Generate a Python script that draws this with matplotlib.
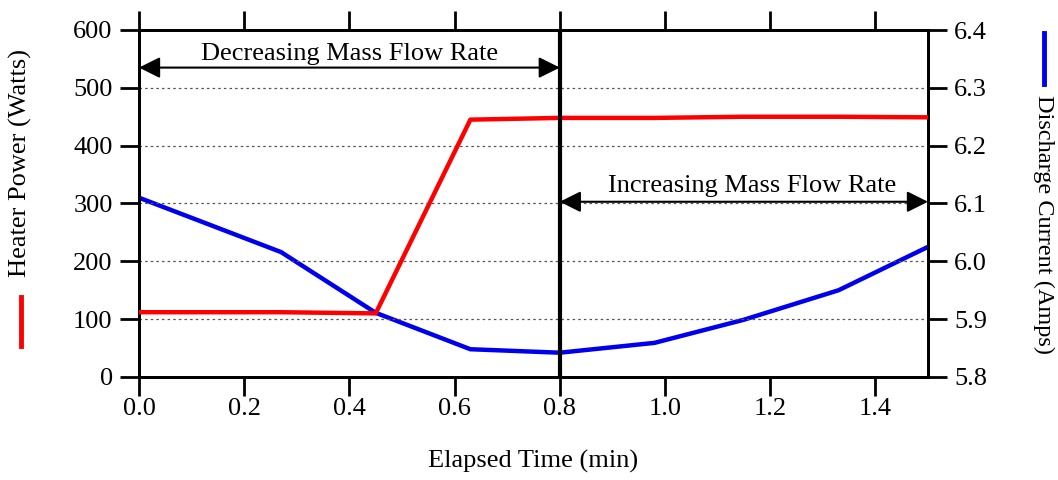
import matplotlib
matplotlib.use('Agg')
import matplotlib.pyplot as plt
from matplotlib.lines import Line2D

plt.rcParams['font.family'] = ['Liberation Serif', 'DejaVu Serif']

# elapsed time (min)
time_min = [0.0, 0.27, 0.45, 0.63, 0.80, 0.98, 1.15, 1.33, 1.50]
# heater power (W)
heater_power = [112, 112, 110, 445, 448, 448, 450, 450, 449]
# discharge current (A)
discharge_current = [6.110, 6.016, 5.911, 5.848, 5.842, 5.859, 5.899, 5.950, 6.025]

split_time = 0.8
xticks = [0.0, 0.2, 0.4, 0.6, 0.8, 1.0, 1.2, 1.4]
left_ticks = [0, 100, 200, 300, 400, 500, 600]
right_ticks = [5.8, 5.9, 6.0, 6.1, 6.2, 6.3, 6.4]

fs = 19

fig = plt.figure(figsize=(10.58, 4.8), dpi=100)
ax = fig.add_axes([0.1314, 0.2146, 0.7457, 0.7229])
ax2 = ax.twinx()

ax.set_xlim(0, 1.5)
ax.set_ylim(0, 600)
ax2.set_ylim(5.8, 6.4)

for y in left_ticks[1:-1]:
    ax.axhline(y, color='#555555', lw=0.9, ls=(0, (2, 2.5)), zorder=1)

ax2.plot(time_min, discharge_current, color='#0000ee', lw=3.2, zorder=3)
ax.plot(time_min, heater_power, color='#ff0000', lw=3.2, zorder=3)
ax.set_zorder(ax2.get_zorder() + 1)
ax.patch.set_visible(False)
ax.axvline(split_time, color='black', lw=3, zorder=4)

# annotations
arrow = dict(arrowstyle='<|-|>', color='black', lw=1.5, mutation_scale=32,
             shrinkA=0, shrinkB=0)
ax.annotate('', xy=(0, 535), xytext=(split_time, 535), arrowprops=arrow)
ax.text(split_time / 2, 558, 'Decreasing Mass Flow Rate', ha='center', va='center', fontsize=fs)
ax.annotate('', xy=(split_time, 303), xytext=(1.5, 303), arrowprops=arrow)
ax.text(1.165, 330, 'Increasing Mass Flow Rate', ha='center', va='center', fontsize=fs)

# ticks
ax.set_xticks(xticks)
ax.set_xticklabels([f'{t:.1f}' for t in xticks])
ax.set_yticks(left_ticks)
ax2.set_yticks(right_ticks)
ax2.set_yticklabels([f'{t:.1f}' for t in right_ticks])
ax.tick_params(axis='x', direction='out', length=14, width=2, labelsize=fs, pad=1,
               top=True)
ax.tick_params(axis='y', direction='out', length=14, width=2, labelsize=fs, pad=5)
ax2.tick_params(axis='y', direction='out', length=14, width=2, labelsize=fs, pad=5)
for a in (ax, ax2):
    for s in a.spines.values():
        s.set_linewidth(2)

ax.set_xlabel('Elapsed Time (min)', fontsize=fs, labelpad=22)

# axis titles with colour keys
fig.text(0.0195, 0.66, 'Heater Power (Watts)', rotation=90, ha='center', va='center', fontsize=fs)
fig.add_artist(Line2D([0.0195, 0.0195], [1 - 297 / 480, 1 - 346 / 480], color='#ff0000', lw=3.5))
fig.text(0.986, 0.532, 'Discharge Current (Amps)', rotation=270, ha='center', va='center', fontsize=17.5)
fig.add_artist(Line2D([0.987, 0.987], [1 - 33 / 480, 1 - 84 / 480], color='#0000ee', lw=3.5))

fig.savefig('out.png', dpi=100)
